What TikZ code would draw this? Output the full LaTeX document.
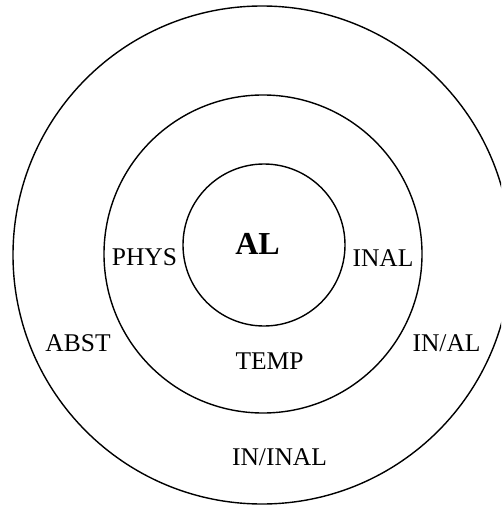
\documentclass[tikz,border=0pt]{standalone}
\usepackage{fontspec}
\setmainfont{Liberation Serif}
\begin{document}
\begin{tikzpicture}[x=1pt,y=-1pt,
  ring/.style={draw=black,line width=1.4pt,circle,inner sep=0pt},
  lab/.style={font=\fontsize{25.5}{27}\selectfont,inner sep=0pt},
  core/.style={font=\fontsize{32}{34}\selectfont\bfseries,inner sep=0pt}]
\clip (0,0) rectangle (501,505);
\fill[white] (0,0) rectangle (501,505);
\node[ring,minimum size=498pt] (outer) at (262,255) {};
\node[ring,minimum size=318pt] (middle) at (263,254) {};
\node[ring,minimum size=162pt] (inner) at (264,245) {};
\node[core] (al) at (257.5,244) {AL};
\node[lab] (phys) at (144.5,257.5) {PHYS};
\node[lab] (inal) at (383,258) {INAL};
\node[lab] (temp) at (269.5,361) {TEMP};
\node[lab] (abst) at (78,343.5) {ABST};
\node[lab] (inal2) at (446.5,343.5) {IN/AL};
\node[lab] (ininal) at (279.5,457) {IN/INAL};
\end{tikzpicture}
\end{document}
